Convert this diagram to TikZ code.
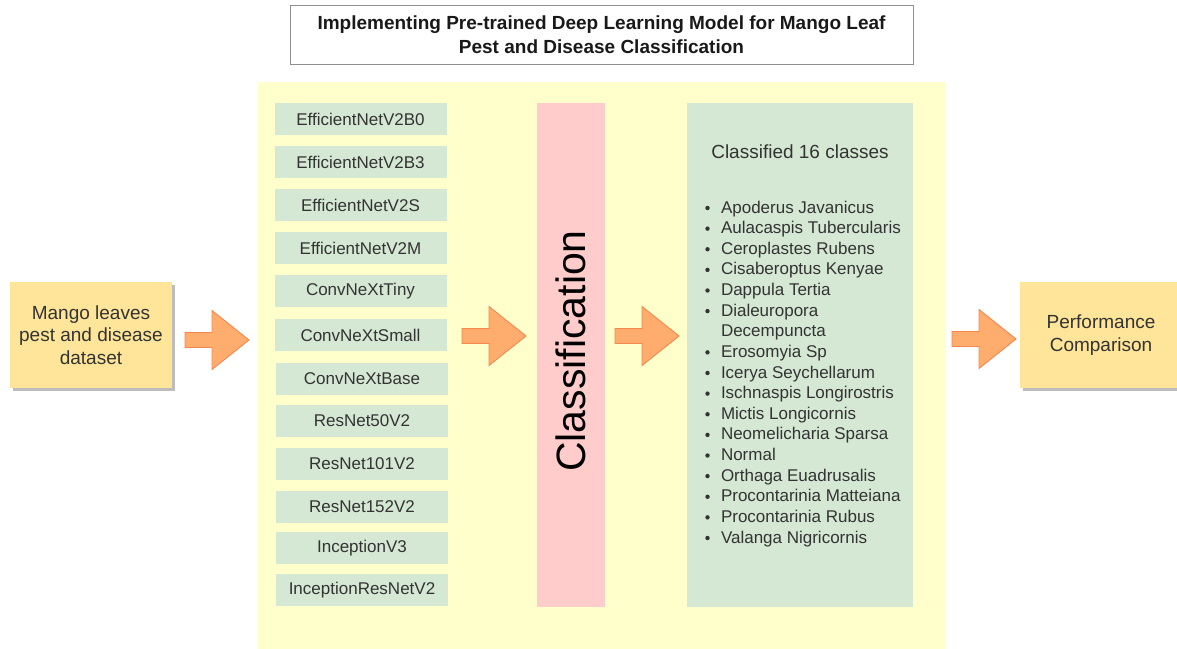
\documentclass[tikz,border=0pt]{standalone}
\usepackage{fontspec}
\setmainfont{Liberation Sans}
\usetikzlibrary{calc}

\definecolor{panelyellow}{HTML}{FFFFCC}
\definecolor{modelgreen}{HTML}{D5E8D4}
\definecolor{clspink}{HTML}{FFCCCC}
\definecolor{ioyellow}{HTML}{FFE599}
\definecolor{shadowgray}{HTML}{BDBDBD}
\definecolor{arrowfill}{HTML}{FFAD6E}
\definecolor{arrowline}{HTML}{F7874C}
\definecolor{titleline}{HTML}{8F8F8F}
\definecolor{txt}{HTML}{333333}

\pgfdeclarelayer{shadowlayer}
\pgfsetlayers{shadowlayer,main}

\begin{document}
\begin{tikzpicture}[x=1pt,y=-1pt,
  plain/.style={inner sep=0pt, outer sep=0pt},
  modelbox/.style={plain, fill=modelgreen, minimum width=172pt, minimum height=32pt,
    text=txt, font=\fontsize{17}{20}\selectfont},
  iobox/.style={plain, fill=ioyellow, minimum width=162pt, minimum height=106pt,
    align=center, text=txt, font=\fontsize{19}{22.5}\selectfont},
  itemtext/.style={plain, anchor=base west, text=txt, font=\fontsize{17}{20}\selectfont},
  barrowstyle/.style={fill=arrowfill, draw=arrowline, line width=0.9pt, line join=miter},
  barrow/.pic={\filldraw[barrowstyle] (0,-7.5) -- (27,-7.5) -- (27,-29.5) -- (64,0)
      -- (27,29.5) -- (27,7.5) -- (0,7.5) -- cycle;}
]
\useasboundingbox (0,0) rectangle (1177,648);

% title
\node[plain, draw=titleline, line width=0.8pt, minimum width=623pt, minimum height=59pt,
  align=center, font=\bfseries\fontsize{19}{24}\selectfont, text=black!90]
  (title) at (601.5,34.5)
  {Implementing Pre-trained Deep Learning Model for Mango Leaf\\Pest and Disease Classification};

% main panel
\node[plain, fill=panelyellow, minimum width=687pt, minimum height=570pt] (panel) at (601.5,367) {};

% input and output boxes, each with a drop shadow
\node[iobox] (mango) at (91,335) {Mango leaves\\pest and disease\\dataset};
\node[iobox] (perf) at (1101,335) {Performance\\Comparison};
\begin{pgfonlayer}{shadowlayer}
  \fill[shadowgray] ($(mango.north west)+(3,3)$) rectangle ($(mango.south east)+(3,3)$);
  \fill[shadowgray] ($(perf.north west)+(3,3)$) rectangle ($(perf.south east)+(3,3)$);
\end{pgfonlayer}

% pre-trained models
\foreach \n/\x/\y/\t in {
  m1/360.5/119/EfficientNetV2B0,
  m2/360.5/162/EfficientNetV2B3,
  m3/360.5/205/EfficientNetV2S,
  m4/360.5/248/EfficientNetV2M,
  m5/360.5/291/ConvNeXtTiny,
  m6/360.5/335/ConvNeXtSmall,
  m7/362/379/ConvNeXtBase,
  m8/362/421/ResNet50V2,
  m9/362/464/ResNet101V2,
  m10/362/507/ResNet152V2,
  m11/362/548/InceptionV3,
  m12/362/590/InceptionResNetV2}
  \node[modelbox] (\n) at (\x,\y) {\t};

% classification stage
\node[plain, fill=clspink, minimum width=68pt, minimum height=504pt] (cls) at (571,355) {};
\node[plain, rotate=90, font=\fontsize{41}{48}\selectfont, text=black]
  (clslabel) at (571,351) {Classification};

% class list
\node[plain, fill=modelgreen, minimum width=226pt, minimum height=504pt] (classes) at (800,355) {};
\node[plain, text=txt, font=\fontsize{19}{22}\selectfont] (classhead) at (800,152) {Classified 16 classes};
\foreach \k/\t in {
  0/Apoderus Javanicus,
  1/Aulacaspis Tubercularis,
  2/Ceroplastes Rubens,
  3/Cisaberoptus Kenyae,
  4/Dappula Tertia,
  5/Dialeuropora,
  6/Decempuncta,
  7/Erosomyia Sp,
  8/Icerya Seychellarum,
  9/Ischnaspis Longirostris,
  10/Mictis Longicornis,
  11/Neomelicharia Sparsa,
  12/Normal,
  13/Orthaga Euadrusalis,
  14/Procontarinia Matteiana,
  15/Procontarinia Rubus,
  16/Valanga Nigricornis}
  \node[itemtext] (c\k) at (721,{213+20.625*\k}) {\t};
\foreach \k in {0,1,2,3,4,5,7,8,9,10,11,12,13,14,15,16}
  \fill[txt] ($(c\k.base west)+(-13.5,-5)$) circle (2.2);

% block arrows between the stages
\pic at (185,340) {barrow};
\pic at (462,336) {barrow};
\pic at (615,336) {barrow};
\pic at (952,339) {barrow};
\end{tikzpicture}
\end{document}
